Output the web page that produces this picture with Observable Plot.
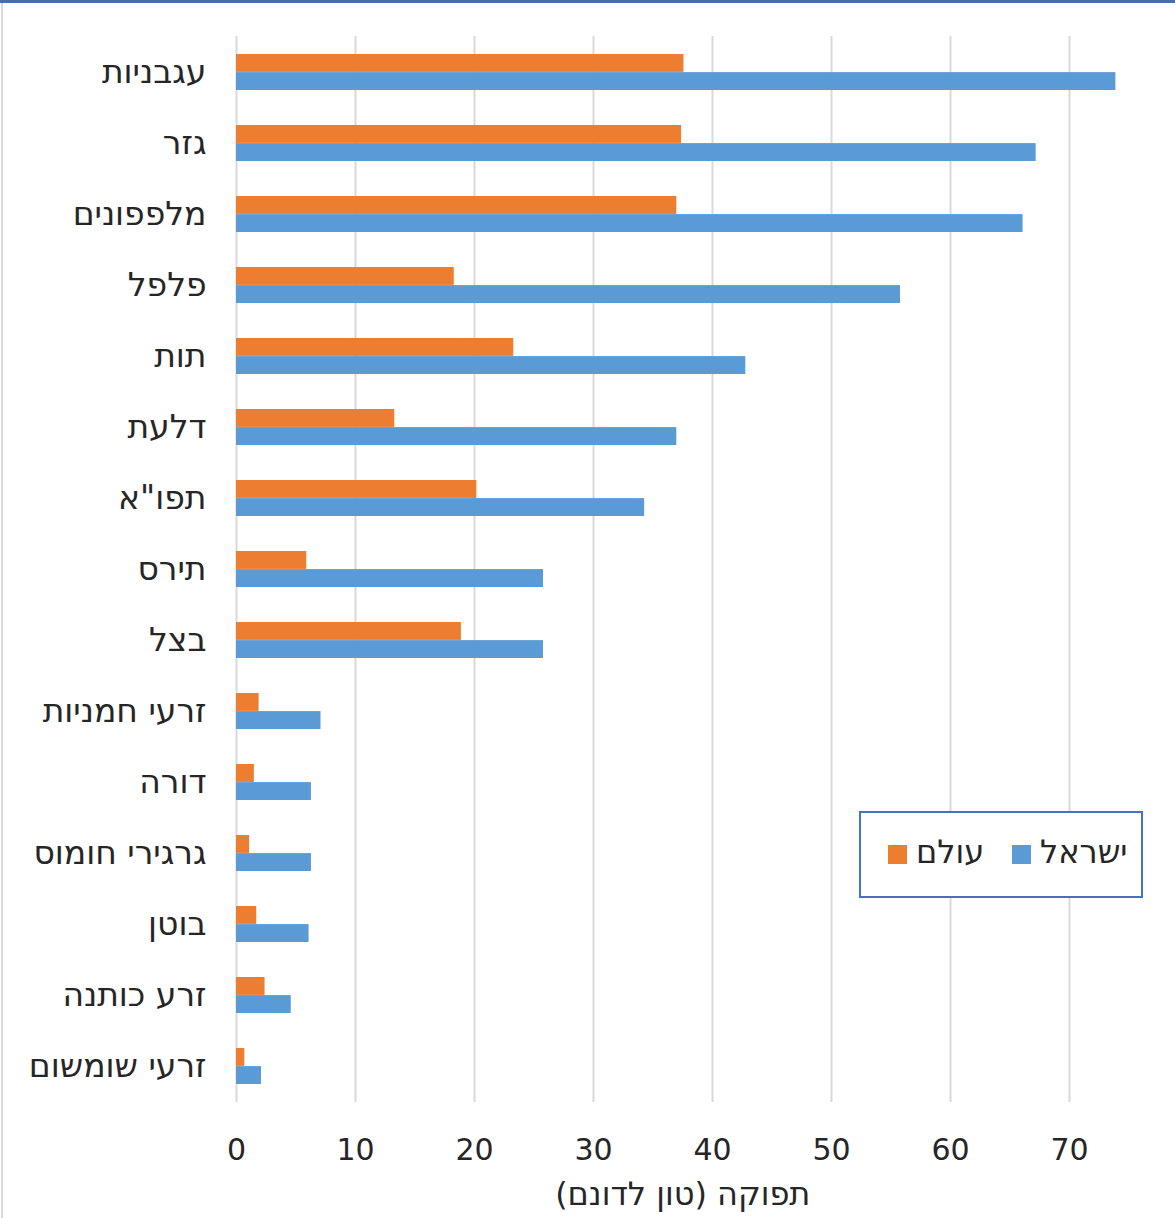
<!DOCTYPE html>
<html><head><meta charset="utf-8">
<script src="https://cdn.jsdelivr.net/npm/d3@7"></script>
<script src="https://cdn.jsdelivr.net/npm/@observablehq/plot@0.6"></script>
<style>
body{margin:0;background:#fff;}
#wrap{position:relative;width:1175px;height:1218px;overflow:hidden;font-family:"DejaVu Sans",sans-serif;background:#fff;}
#wrap svg{position:absolute;left:0;top:0;}
.topline{position:absolute;left:0;top:0;width:1175px;height:3px;background:#41719c;}
.leftline{position:absolute;left:1px;top:3px;width:2px;height:1215px;background:#d9d9d9;}
.legend{position:absolute;left:859px;top:811px;width:280px;height:83px;border:2px solid #4472c4;background:#fff;}
.sw{position:absolute;width:19px;height:19px;}
.lt{position:absolute;font-size:32px;color:#262626;line-height:36px;direction:rtl;white-space:nowrap;}
</style></head><body><div id="wrap"><div class="topline"></div><div class="leftline"></div></div>
<script>
const categories = ["עגבניות","גזר","מלפפונים","פלפל","תות","דלעת","תפו\"א","תירס","בצל","זרעי חמניות","דורה","גרגירי חומוס","בוטן","זרע כותנה","זרעי שומשום"];
const israel = [73.9,67.2,66.1,55.8,42.8,37.0,34.3,25.8,25.8,7.1,6.3,6.3,6.1,4.6,2.1];
const world  = [37.6,37.4,37.0,18.3,23.3,13.3,20.2,5.9,18.9,1.9,1.5,1.1,1.7,2.4,0.7];
const seriesNames = ["ישראל","עולם"];
const seriesColors = ["#5b9bd5","#ed7d31"];
const xTicks = [0,10,20,30,40,50,60,70];
const axisTitle = "תפוקה (טון לדונם)";

const rows = categories.map((c,i)=>({cat:c, israel:israel[i], world:world[i]}));
const half = 18.1;
const chart = Plot.plot({
  width:1175, height:1218,
  marginLeft:236, marginRight:46.5, marginTop:36, marginBottom:116,
  style:{fontFamily:'"DejaVu Sans",sans-serif', fontSize:"30px", color:"#262626", background:"transparent", overflow:"visible"},
  x:{domain:[0,75], ticks:xTicks, tickSize:0, tickPadding:36, label:null},
  y:{domain:categories, paddingInner:0.49, paddingOuter:0.24, tickSize:0, tickPadding:30, label:null},
  marks:[
    Plot.ruleX(xTicks,{stroke:"#d9d9d9", strokeWidth:2, strokeOpacity:1}),
    Plot.barX(rows,{x:"world", y:"cat", fill:seriesColors[1], insetBottom:half}),
    Plot.barX(rows,{x:"israel", y:"cat", fill:seriesColors[0], insetTop:half}),
    Plot.text([axisTitle],{text:d=>d, frameAnchor:"bottom", dy:102, fontSize:32, fill:"#262626"})
  ]
});
const svg = d3.select(chart);
svg.selectAll("text").filter(function(){return this.textContent===axisTitle;}).attr("direction","rtl").style("direction","rtl");
svg.selectAll("text").filter(function(){return categories.includes(this.textContent);}).attr("font-size",33).style("font-size","33px");
const wrap = document.getElementById("wrap");
wrap.insertBefore(chart, wrap.firstChild);

const leg = document.createElement("div");
leg.className = "legend";
wrap.appendChild(leg);
const items = [
  {name:seriesNames[0], color:seriesColors[0], sx:1012, tx:1040},
  {name:seriesNames[1], color:seriesColors[1], sx:888, tx:916}
];
items.forEach(it=>{
  const s=document.createElement("div"); s.className="sw";
  s.style.left=it.sx+"px"; s.style.top="845px"; s.style.background=it.color; wrap.appendChild(s);
  const t=document.createElement("div"); t.className="lt";
  t.style.left=it.tx+"px"; t.style.top="834px"; t.textContent=it.name; wrap.appendChild(t);
});
</script></body></html>
